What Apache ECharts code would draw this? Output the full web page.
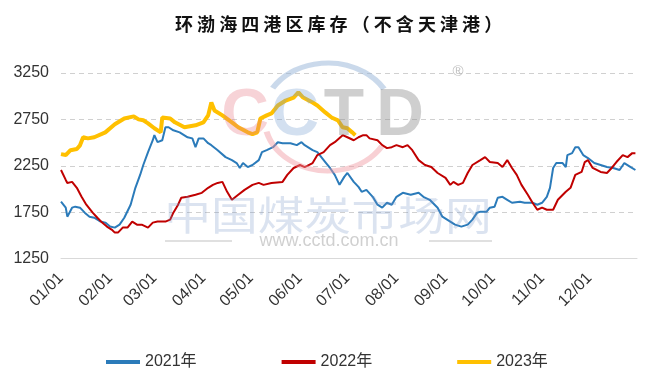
<!DOCTYPE html>
<html>
<head>
<meta charset="utf-8">
<script src="https://cdn.jsdelivr.net/npm/echarts@6/dist/echarts.min.js"></script>
<style>
html,body{margin:0;padding:0;background:#fff;}
#chart{width:653px;height:385px;}
</style>
</head>
<body>
<div id="chart"></div>
<script>
// ---------- data ----------
const titleText = '环渤海四港区库存（不含天津港）';
const seriesNames = ['2021年', '2022年', '2023年'];
const yTicks = [1250, 1750, 2250, 2750, 3250];

// day-of-year index (0 = 01/01) and inventory values
const days2021 = [0,3,4,7,9,12,15,18,21,25,28,31,34,37,40,44,47,50,52,55,58,59,61,64,66,68,71,75,80,83,85,87,90,93,95,99,104,108,111,113,115,118,121,125,127,130,134,137,140,145,149,152,154,159,162,167,170,173,176,179,181,185,188,190,193,197,200,203,206,209,212,216,221,226,229,233,238,241,246,249,253,257,260,263,265,269,271,274,276,279,282,285,290,293,298,301,304,307,309,311,313,317,319,320,323,325,327,330,333,337,341,345,349,353,356,360,363];
const vals2021 = [1862,1798,1701,1798,1809,1798,1744,1701,1690,1648,1637,1594,1583,1615,1690,1830,2012,2151,2258,2397,2525,2580,2504,2525,2665,2665,2632,2610,2557,2545,2450,2545,2545,2493,2472,2418,2343,2311,2279,2226,2279,2236,2258,2311,2397,2418,2450,2504,2493,2493,2472,2504,2472,2418,2397,2290,2226,2151,2044,2130,2172,2076,2022,1969,1990,1915,1830,1798,1851,1830,1915,1958,1937,1958,1915,1883,1798,1701,1648,1615,1594,1615,1669,1744,1755,1755,1798,1809,1905,1915,1883,1851,1862,1851,1851,1830,1851,1915,2012,2226,2279,2279,2236,2365,2386,2450,2450,2365,2333,2279,2258,2236,2226,2204,2279,2236,2204];

const days2022 = [0,3,4,7,10,13,16,20,23,26,29,32,34,36,39,42,45,48,51,55,58,61,66,69,71,74,76,80,85,89,93,96,99,102,105,108,112,116,121,125,128,133,140,143,147,151,154,159,162,166,170,173,178,181,185,188,191,193,195,200,203,206,209,212,216,219,222,226,230,234,238,243,246,248,251,254,257,260,265,268,271,276,279,282,285,288,291,295,298,301,304,307,311,314,319,322,325,329,331,333,336,341,345,348,351,355,358,361,363];
const vals2022 = [2204,2097,2065,2076,2012,1915,1830,1744,1690,1637,1594,1562,1529,1529,1583,1583,1648,1615,1615,1583,1637,1648,1648,1669,1744,1830,1905,1915,1937,1958,2012,2044,2065,2076,1969,1883,1937,1990,2044,2065,2044,2065,2076,2151,2226,2258,2236,2279,2365,2397,2472,2504,2580,2557,2525,2557,2580,2580,2545,2525,2472,2440,2450,2472,2450,2472,2418,2311,2258,2236,2172,2119,2044,2076,2044,2065,2172,2258,2311,2343,2290,2279,2236,2311,2226,2151,2044,1937,1851,1776,1798,1776,1776,1883,1969,2012,2151,2183,2290,2311,2226,2183,2172,2226,2290,2365,2343,2386,2386];

const days2023 = [0,3,6,10,12,14,17,21,28,34,40,46,49,52,55,59,63,64,69,72,78,85,90,93,95,97,102,108,112,118,121,124,126,130,133,137,142,147,150,153,159,162,167,171,175,178,181,184,186];
const vals2023 = [2375,2365,2418,2430,2470,2557,2545,2557,2610,2697,2760,2782,2750,2740,2707,2654,2610,2770,2760,2718,2665,2686,2718,2793,2932,2846,2793,2718,2665,2610,2590,2610,2760,2793,2814,2900,2953,2985,3040,2985,2932,2900,2825,2770,2740,2665,2654,2610,2580];

// ---------- categories (one per day, non-leap year) ----------
const monthLengths = [31,28,31,30,31,30,31,31,30,31,30,31];
const categories = [];
monthLengths.forEach((n, m) => {
  for (let d = 1; d <= n; d++) {
    categories.push(String(m + 1).padStart(2, '0') + '/' + String(d).padStart(2, '0'));
  }
});

const pair = (ds, vs) => ds.map((d, i) => [d, vs[i]]);

const colors = ['#2b7bba', '#c00000', '#ffc000'];
const widths = [2, 2, 4];

const chart = echarts.init(document.getElementById('chart'), null, {renderer: 'canvas'});

const option = {
  animation: false,
  backgroundColor: '#ffffff',
  title: {
    text: titleText.split('').join(' '),
    left: 170,
    top: 10,
    textStyle: {
      fontFamily: 'Noto Sans CJK SC',
      fontSize: 18,
      fontWeight: 'bold',
      color: '#111'
    }
  },
  legend: {
    top: 349,
    left: 101,
    itemWidth: 34,
    itemHeight: 4,
    itemGap: 85,
    icon: 'rect',
    data: seriesNames,
    textStyle: {fontFamily: 'Liberation Sans, Noto Sans CJK SC', fontSize: 16, color: '#333'}
  },
  grid: {left: 61, right: 16, top: 73, bottom: 126.5, containLabel: false},
  xAxis: {
    type: 'category',
    data: categories,
    boundaryGap: false,
    axisLine: {show: true, lineStyle: {color: '#d9d9d9', width: 1}},
    axisTick: {show: false},
    axisLabel: {
      interval: (idx, val) => val.endsWith('/01'),
      rotate: 45,
      margin: 17,
      fontFamily: 'Liberation Sans',
      fontSize: 16,
      color: '#333'
    },
    splitLine: {show: false}
  },
  yAxis: {
    type: 'value',
    min: yTicks[0],
    max: yTicks[yTicks.length - 1],
    interval: 500,
    axisLine: {show: false},
    axisTick: {show: false},
    axisLabel: {margin: 12, fontFamily: 'Liberation Sans', fontSize: 16, color: '#333', formatter: v => String(v)},
    splitLine: {show: true, lineStyle: {color: '#d0d0d0', type: [5, 4], width: 1}}
  },
  graphic: [
    {type: 'arc', x: 328, y: 118, scaleX: 1.2, z: 100, silent: true,
      shape: {cx: 0, cy: 0, r: 55, startAngle: 213 * Math.PI / 180, endAngle: 328 * Math.PI / 180, clockwise: true},
      style: {stroke: 'rgba(150,180,215,0.5)', lineWidth: 5, fill: null}},
    {type: 'arc', x: 328, y: 118, scaleX: 1.2, z: 100, silent: true,
      shape: {cx: 0, cy: 0, r: 53, startAngle: 32 * Math.PI / 180, endAngle: 165 * Math.PI / 180, clockwise: true},
      style: {stroke: 'rgba(240,150,160,0.45)', lineWidth: 5, fill: null}},
    {type: 'text', x: 245, y: 117, z: 100, silent: true,
      style: {text: 'C', font: 'bold 66px Liberation Sans', fill: 'rgba(232,120,135,0.33)', textAlign: 'center', textVerticalAlign: 'middle'}},
    {type: 'text', x: 295, y: 117, z: 100, silent: true,
      style: {text: 'C', font: 'bold 66px Liberation Sans', fill: 'rgba(120,160,210,0.33)', textAlign: 'center', textVerticalAlign: 'middle'}},
    {type: 'text', x: 344, y: 117, z: 100, silent: true,
      style: {text: 'T', font: 'bold 66px Liberation Sans', fill: 'rgba(140,140,140,0.42)', textAlign: 'center', textVerticalAlign: 'middle'}},
    {type: 'text', x: 400, y: 117, z: 100, silent: true,
      style: {text: 'D', font: 'bold 66px Liberation Sans', fill: 'rgba(140,140,140,0.42)', textAlign: 'center', textVerticalAlign: 'middle'}},
    {type: 'text', x: 458, y: 72, z: 100, silent: true,
      style: {text: '®', font: '15px Liberation Sans', fill: 'rgba(150,150,150,0.6)', textAlign: 'center', textVerticalAlign: 'middle'}},
    {type: 'text', x: 328, y: 215, scaleX: 1.17, z: 100, silent: true,
      style: {text: '中国煤炭市场网', font: '40px Noto Sans CJK SC', fill: 'rgba(110,145,195,0.25)', textAlign: 'center', textVerticalAlign: 'middle'}},
    {type: 'text', x: 329, y: 241, z: 100, silent: true,
      style: {text: 'www.cctd.com.cn', font: '18px Liberation Sans', fill: 'rgba(150,150,150,0.45)', textAlign: 'center', textVerticalAlign: 'middle'}},
    {type: 'line', z: 100, silent: true, shape: {x1: 165, y1: 241, x2: 232, y2: 241}, style: {stroke: 'rgba(150,150,150,0.4)', lineWidth: 1.5}},
    {type: 'line', z: 100, silent: true, shape: {x1: 429, y1: 241, x2: 492, y2: 241}, style: {stroke: 'rgba(150,150,150,0.4)', lineWidth: 1.5}}
  ],
  series: [
    {name: seriesNames[0], data: pair(days2021, vals2021)},
    {name: seriesNames[1], data: pair(days2022, vals2022)},
    {name: seriesNames[2], data: pair(days2023, vals2023)}
  ].map((s, i) => Object.assign(s, {
    type: 'line',
    showSymbol: false,
    symbol: 'none',
    color: colors[i],
    lineStyle: {color: colors[i], width: widths[i]},
    z: 2 + i
  }))
};
chart.setOption(option);
</script>
</body>
</html>
